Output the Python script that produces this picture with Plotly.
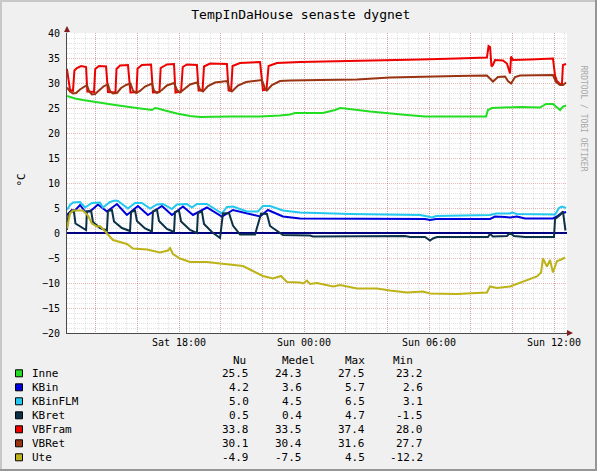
import pandas as pd
import plotly.graph_objects as go

# ---------------- data (time in hours after Sat 00:00, value in deg C) ----------------
inne_t = [12.62, 13.01, 13.39, 14.21, 14.93, 15.79, 16.70, 16.85, 16.99, 17.33, 17.90, 18.53, 19.01,
          20.45, 21.89, 22.85, 23.33, 23.57, 24.91, 25.49, 25.73, 25.97, 27.17, 28.94, 29.81, 32.74,
          32.83, 33.02, 33.41, 34.37, 35.33, 35.62, 35.95, 36.14, 36.29, 36.43, 36.58]
inne_v = [27.4, 26.9, 26.6, 26.0, 25.6, 25.1, 24.6, 25.0, 24.9, 24.5, 23.9, 23.4, 23.2,
          23.3, 23.3, 23.5, 23.7, 24.0, 24.0, 24.6, 25.0, 24.9, 24.3, 23.6, 23.3, 23.3,
          24.6, 25.0, 25.1, 25.2, 25.1, 25.8, 25.8, 25.1, 24.6, 25.3, 25.5]

kbin_t = [12.62, 12.86, 13.01, 13.25, 13.49, 13.73, 14.11, 14.54, 15.02, 15.50, 16.03, 16.51, 17.18,
          17.66, 18.19, 18.67, 19.34, 20.06, 20.59, 21.89, 22.27, 22.99, 23.81, 26.21, 29.81, 30.05,
          30.34, 32.93, 33.17, 33.65, 33.89, 34.22, 34.61, 35.95, 36.14, 36.34, 36.58]
kbin_v = [3.6, 4.6, 4.5, 5.6, 4.3, 4.3, 5.7, 4.3, 5.8, 3.6, 5.4, 3.6, 5.4,
          3.6, 5.3, 3.6, 5.1, 3.3, 4.6, 3.3, 4.6, 3.3, 2.9, 2.8, 2.8, 2.6,
          2.8, 2.8, 3.3, 3.2, 3.1, 3.3, 2.9, 2.9, 3.3, 3.9, 4.2]

kbinflm_t = [12.62, 12.77, 12.91, 13.25, 13.49, 13.82, 14.21, 14.35, 14.69, 14.93, 15.07, 15.55, 15.89,
             16.22, 16.61, 16.94, 17.23, 17.66, 17.90, 18.38, 18.62, 18.86, 19.34, 20.06, 20.30, 20.59,
             21.26, 21.79, 22.03, 22.37, 22.99, 23.81, 26.21, 29.57, 29.95, 30.14, 30.34, 32.93, 33.22,
             33.89, 33.98, 34.22, 36.05, 36.24, 36.38, 36.58]
kbinflm_v = [4.6, 5.6, 6.1, 6.2, 5.1, 6.0, 6.1, 5.1, 6.2, 6.5, 6.4, 4.9, 6.0,
             6.0, 4.9, 5.7, 5.8, 4.8, 5.7, 5.8, 5.1, 5.8, 5.8, 3.9, 5.2, 5.3,
             4.3, 4.3, 5.4, 5.4, 4.5, 4.1, 3.8, 3.6, 3.3, 3.1, 3.4, 3.6, 3.9,
             3.9, 4.1, 3.8, 3.7, 5.0, 5.3, 5.0]

kbret_t = [12.62, 12.70, 12.86, 12.96, 13.03, 13.25, 13.54, 13.58, 13.78, 13.87, 14.21, 14.54, 14.59,
           14.78, 14.88, 15.26, 15.65, 15.70, 15.89, 15.98, 16.37, 16.70, 16.75, 16.94, 17.04, 17.42,
           17.76, 17.81, 18.00, 18.10, 18.53, 18.86, 18.91, 19.10, 19.20, 19.58, 19.97, 20.11, 20.40,
           20.59, 20.93, 21.65, 21.94, 22.22, 22.37, 22.99, 23.81, 24.29, 24.43, 28.61, 28.85, 29.09,
           29.81, 30.05, 30.19, 30.38, 32.83, 32.93, 33.07, 33.74, 33.89, 34.08, 34.61, 36.00, 36.05,
           36.29, 36.43, 36.55]
kbret_v = [0.6, 3.9, 4.4, 4.2, 1.9, 1.3, 0.6, 4.3, 4.5, 2.2, 1.0, 0.5, 4.4,
           4.6, 2.3, 1.0, 0.4, 4.2, 4.5, 2.4, 0.9, 0.3, 4.3, 4.7, 2.4, 0.8,
           0.2, 4.2, 4.5, 2.3, 0.6, 0.0, 4.0, 4.3, 1.8, 0.2, -1.0, 3.9, 4.0,
           1.5, -0.3, -0.3, 3.9, 3.8, 1.4, -0.4, -0.5, -0.5, -0.7, -0.7, -0.6, -0.8,
           -0.8, -1.5, -1.1, -0.8, -0.8, -0.2, -0.7, -0.6, 0.0, -0.6, -0.8, -0.8, 2.8,
           3.6, 4.3, 0.5]

vbfram_t = [12.62, 12.72, 12.77, 12.91, 12.98, 13.10, 13.30, 13.54, 13.60, 13.92, 13.98, 14.16, 14.50,
            14.59, 14.95, 15.00, 15.17, 15.55, 15.67, 15.96, 16.01, 16.22, 16.66, 16.75, 17.06, 17.12,
            17.42, 17.76, 17.83, 18.10, 18.18, 18.38, 18.86, 18.94, 19.13, 19.20, 19.49, 20.30, 20.38,
            20.50, 20.57, 20.93, 21.89, 22.03, 22.20, 22.30, 22.70, 23.81, 25.25, 26.69, 28.13, 29.57,
            31.34, 32.78, 32.86, 32.93, 33.00, 33.07, 33.17, 33.55, 33.74, 33.89, 33.94, 34.03, 34.85,
            35.95, 36.05, 36.14, 36.29, 36.38, 36.43, 36.58]
vbfram_v = [32.8, 30.5, 28.6, 28.4, 32.5, 33.0, 33.4, 33.2, 28.3, 28.2, 32.8, 33.4, 33.3,
            28.2, 28.1, 32.8, 33.5, 33.6, 28.1, 28.2, 32.9, 33.6, 33.7, 28.1, 28.2, 33.0,
            33.7, 33.8, 28.1, 28.3, 33.2, 33.7, 33.6, 28.5, 28.5, 33.3, 33.9, 33.8, 28.5,
            28.4, 33.4, 34.0, 34.2, 28.6, 28.7, 33.4, 34.0, 34.2, 34.3, 34.5, 34.6, 34.7,
            34.9, 35.1, 37.4, 37.2, 33.3, 33.6, 34.6, 34.5, 33.9, 31.9, 35.3, 34.6, 34.7,
            34.9, 31.5, 30.4, 29.8, 29.8, 33.6, 33.8]

vbret_t = [12.62, 12.77, 12.91, 13.06, 13.25, 13.44, 13.58, 13.68, 13.82, 13.97, 14.21, 14.40, 14.59,
           14.69, 14.83, 15.02, 15.22, 15.46, 15.67, 15.79, 15.94, 16.13, 16.37, 16.70, 16.80, 16.94,
           17.18, 17.42, 17.76, 17.90, 18.05, 18.29, 18.53, 18.86, 19.01, 19.15, 19.39, 19.73, 20.30,
           20.45, 20.54, 20.83, 21.22, 21.98, 22.13, 22.22, 22.46, 22.85, 23.33, 24.77, 26.54, 28.13,
           29.57, 31.34, 32.78, 32.93, 33.07, 33.31, 33.65, 33.79, 33.94, 34.13, 34.37, 35.95, 36.10,
           36.29, 36.43, 36.58]
vbret_v = [29.1, 28.3, 27.9, 28.0, 28.7, 29.3, 29.6, 28.4, 27.7, 27.8, 28.8, 29.4, 29.7,
           28.4, 27.9, 28.0, 29.0, 29.6, 29.9, 28.5, 28.0, 28.4, 29.3, 29.9, 28.5, 28.0,
           28.6, 29.5, 30.0, 28.6, 28.1, 28.9, 29.7, 30.1, 28.7, 28.3, 29.4, 30.1, 30.4,
           28.6, 28.3, 29.5, 30.2, 30.6, 28.9, 28.5, 29.6, 30.4, 30.5, 30.6, 30.7, 31.1,
           31.3, 31.4, 31.5, 30.8, 30.3, 31.2, 31.3, 30.4, 29.9, 31.2, 31.5, 31.6, 30.2,
           29.6, 29.6, 30.1]

ute_t = [12.62, 12.77, 12.91, 13.39, 13.63, 13.82, 14.06, 14.21, 14.35, 14.54, 14.83, 15.50, 15.79,
         16.46, 17.09, 17.47, 17.57, 17.71, 18.05, 18.53, 19.34, 19.97, 20.59, 21.07, 21.55, 22.03,
         22.51, 22.90, 23.18, 23.81, 23.95, 24.14, 24.29, 24.62, 25.39, 25.73, 26.54, 27.50, 28.13,
         28.94, 29.71, 30.05, 31.34, 32.30, 32.78, 32.93, 33.26, 33.89, 34.51, 35.18, 35.38, 35.47,
         35.66, 35.81, 35.95, 36.14, 36.29, 36.53]
ute_v = [0.9, 3.9, 4.5, 4.5, 3.5, 1.9, 1.3, 1.4, 0.8, 0.0, -1.4, -2.2, -3.1,
         -3.3, -3.9, -3.5, -3.0, -4.2, -5.1, -5.8, -5.8, -6.1, -6.3, -6.6, -7.6, -8.6,
         -9.1, -8.6, -9.8, -9.9, -10.1, -9.5, -10.2, -10.0, -10.7, -10.4, -11.1, -11.1, -11.5,
         -11.9, -11.7, -12.1, -12.2, -12.0, -11.9, -10.7, -11.0, -10.7, -9.7, -8.7, -7.9, -5.1,
         -6.7, -5.4, -7.9, -5.6, -5.4, -4.9]

names = ["Inne", "KBin", "KBinFLM", "KBret", "VBFram", "VBRet", "Ute"]
nu_vals = ["25.5", "4.2", "5.0", "0.5", "33.8", "30.1", "-4.9"]
medel_vals = ["24.3", "3.6", "4.5", "0.4", "33.5", "30.4", "-7.5"]
max_vals = ["27.5", "5.7", "6.5", "4.7", "37.4", "31.6", "4.5"]
min_vals = ["23.2", "2.6", "3.1", "-1.5", "28.0", "27.7", "-12.2"]
col_heads = ["Nu", "Medel", "Max", "Min"]

tick_hours = [14, 16, 18, 20, 22, 24, 26, 28, 30, 32, 34, 36]
tick_labels = ["", "", "Sat 18:00", "", "", "Sun 00:00", "", "", "Sun 06:00", "", "", "Sun 12:00"]
range_hours = [12.624, 36.624]

# ---------------- styling ----------------
colors = ["#22DD22", "#0000DD", "#22C8F0", "#0B3048", "#EE0000", "#993311", "#BDB318"]
FONT = "DejaVu Sans Mono"
BASE = pd.Timestamp("2010-01-09")  # a Saturday


def to_time(hours):
    return [BASE + pd.Timedelta(hours=h) for h in hours]


W, H = 597, 471
L, R, T, B = 67, 30, 33, 138
PW, PH = W - L - R, H - T - B


def px(x):
    return (x - L) / PW


def py(y):
    return (H - B - y) / PH


series_t = [inne_t, kbin_t, kbinflm_t, kbret_t, vbfram_t, vbret_t, ute_t]
series_v = [inne_v, kbin_v, kbinflm_v, kbret_v, vbfram_v, vbret_v, ute_v]

fig = go.Figure()
for name, t, v, c in zip(names, series_t, series_v, colors):
    fig.add_trace(go.Scatter(x=to_time(t), y=v, mode="lines", name=name,
                             line=dict(color=c, width=2), showlegend=False, hoverinfo="skip"))

minor_col = "rgba(150,150,150,0.28)"
major_col = "rgba(180,40,40,0.32)"

fig.update_layout(
    width=W, height=H, autosize=False,
    margin=dict(l=L, r=R, t=T, b=B, pad=0),
    paper_bgcolor="#F0F0F0", plot_bgcolor="#FFFFFF",
    font=dict(family=FONT, size=10, color="#000000"),
    title=dict(text="TempInDaHouse senaste dygnet", x=0.504, xref="container", xanchor="center",
               y=1 - 14 / H, yref="container", yanchor="middle",
               font=dict(family=FONT, size=13, color="#000000")),
    xaxis=dict(type="date", range=to_time(range_hours), tickmode="array",
               tickvals=to_time(tick_hours), ticktext=tick_labels,
               showgrid=True, gridcolor=major_col, griddash="1px,1px", gridwidth=1,
               minor=dict(dtick=30 * 60 * 1000, tick0="2010-01-09 00:00", showgrid=True,
                          gridcolor=minor_col, griddash="1px,1px", gridwidth=1),
               showline=True, linecolor="#4A4A4A", linewidth=1, ticks="", zeroline=False,
               tickfont=dict(family=FONT, size=10), automargin=False, fixedrange=True),
    yaxis=dict(range=[-20, 40], tickmode="linear", tick0=-20, dtick=5,
               showgrid=True, gridcolor=major_col, griddash="1px,1px", gridwidth=1,
               minor=dict(dtick=1, showgrid=True, gridcolor=minor_col, griddash="1px,1px", gridwidth=1),
               showline=True, linecolor="#4A4A4A", linewidth=1, ticks="",
               zeroline=True, zerolinecolor="#000080", zerolinewidth=1.5,
               ticklabelstandoff=4, tickfont=dict(family=FONT, size=10), automargin=False,
               fixedrange=True),
)

# axis arrows
fig.add_annotation(xref="paper", yref="paper", x=0, y=py(26), ax=0, ay=8, text="",
                   showarrow=True, arrowhead=2, arrowsize=1, arrowwidth=1.2, arrowcolor="#7F1F1F")
fig.add_annotation(xref="paper", yref="paper", x=px(573), y=0, ax=-8, ay=0, text="",
                   showarrow=True, arrowhead=2, arrowsize=1, arrowwidth=1.2, arrowcolor="#7F1F1F")

# y-axis unit label
fig.add_annotation(xref="paper", yref="paper", x=px(12), y=py(180), text="°C", textangle=-90,
                   showarrow=False, font=dict(family=FONT, size=11, color="#000000"))

# watermark
fig.add_annotation(xref="paper", yref="paper", x=px(590), y=py(63), text="RRDTOOL / TOBI OETIKER",
                   textangle=90, showarrow=False, font=dict(family=FONT, size=8, color="#A8A8A8"))

# legend table
head_left = [232, 281, 344, 392]
for head, xl in zip(col_heads, head_left):
    fig.add_annotation(xref="paper", yref="paper", x=px(xl - 1), y=py(360), text=head,
                       xanchor="left", yanchor="middle", showarrow=False,
                       font=dict(family=FONT, size=11, color="#000000"))

col_right = [251, 304, 367, 425]
row0, dy = 373.3, 14.0
for i, name in enumerate(names):
    yc = row0 + i * dy
    fig.add_shape(type="rect", xref="paper", yref="paper", x0=px(15.5), x1=px(22.5),
                  y0=py(yc + 3.5), y1=py(yc - 3.5), fillcolor=colors[i],
                  line=dict(color="#000000", width=1), layer="above")
    fig.add_annotation(xref="paper", yref="paper", x=px(29.5), y=py(yc), text=name,
                       xanchor="left", yanchor="middle", showarrow=False,
                       font=dict(family=FONT, size=11, color="#000000"))
    for vals, xr in zip([nu_vals, medel_vals, max_vals, min_vals], col_right):
        fig.add_annotation(xref="paper", yref="paper", x=px(xr), y=py(yc), text=vals[i],
                           xanchor="right", yanchor="middle", showarrow=False,
                           font=dict(family=FONT, size=11, color="#000000"))

# outer shaded border
fig.add_shape(type="line", xref="paper", yref="paper", x0=px(0), x1=px(W), y0=py(1), y1=py(1),
              line=dict(color="#C8C8C8", width=2))
fig.add_shape(type="line", xref="paper", yref="paper", x0=px(1), x1=px(1), y0=py(0), y1=py(H),
              line=dict(color="#C8C8C8", width=2))
fig.add_shape(type="line", xref="paper", yref="paper", x0=px(W - 1), x1=px(W - 1), y0=py(0), y1=py(H),
              line=dict(color="#969696", width=2))
fig.add_shape(type="line", xref="paper", yref="paper", x0=px(0), x1=px(W), y0=py(H - 1), y1=py(H - 1),
              line=dict(color="#969696", width=2))

fig.write_html("out.html")
